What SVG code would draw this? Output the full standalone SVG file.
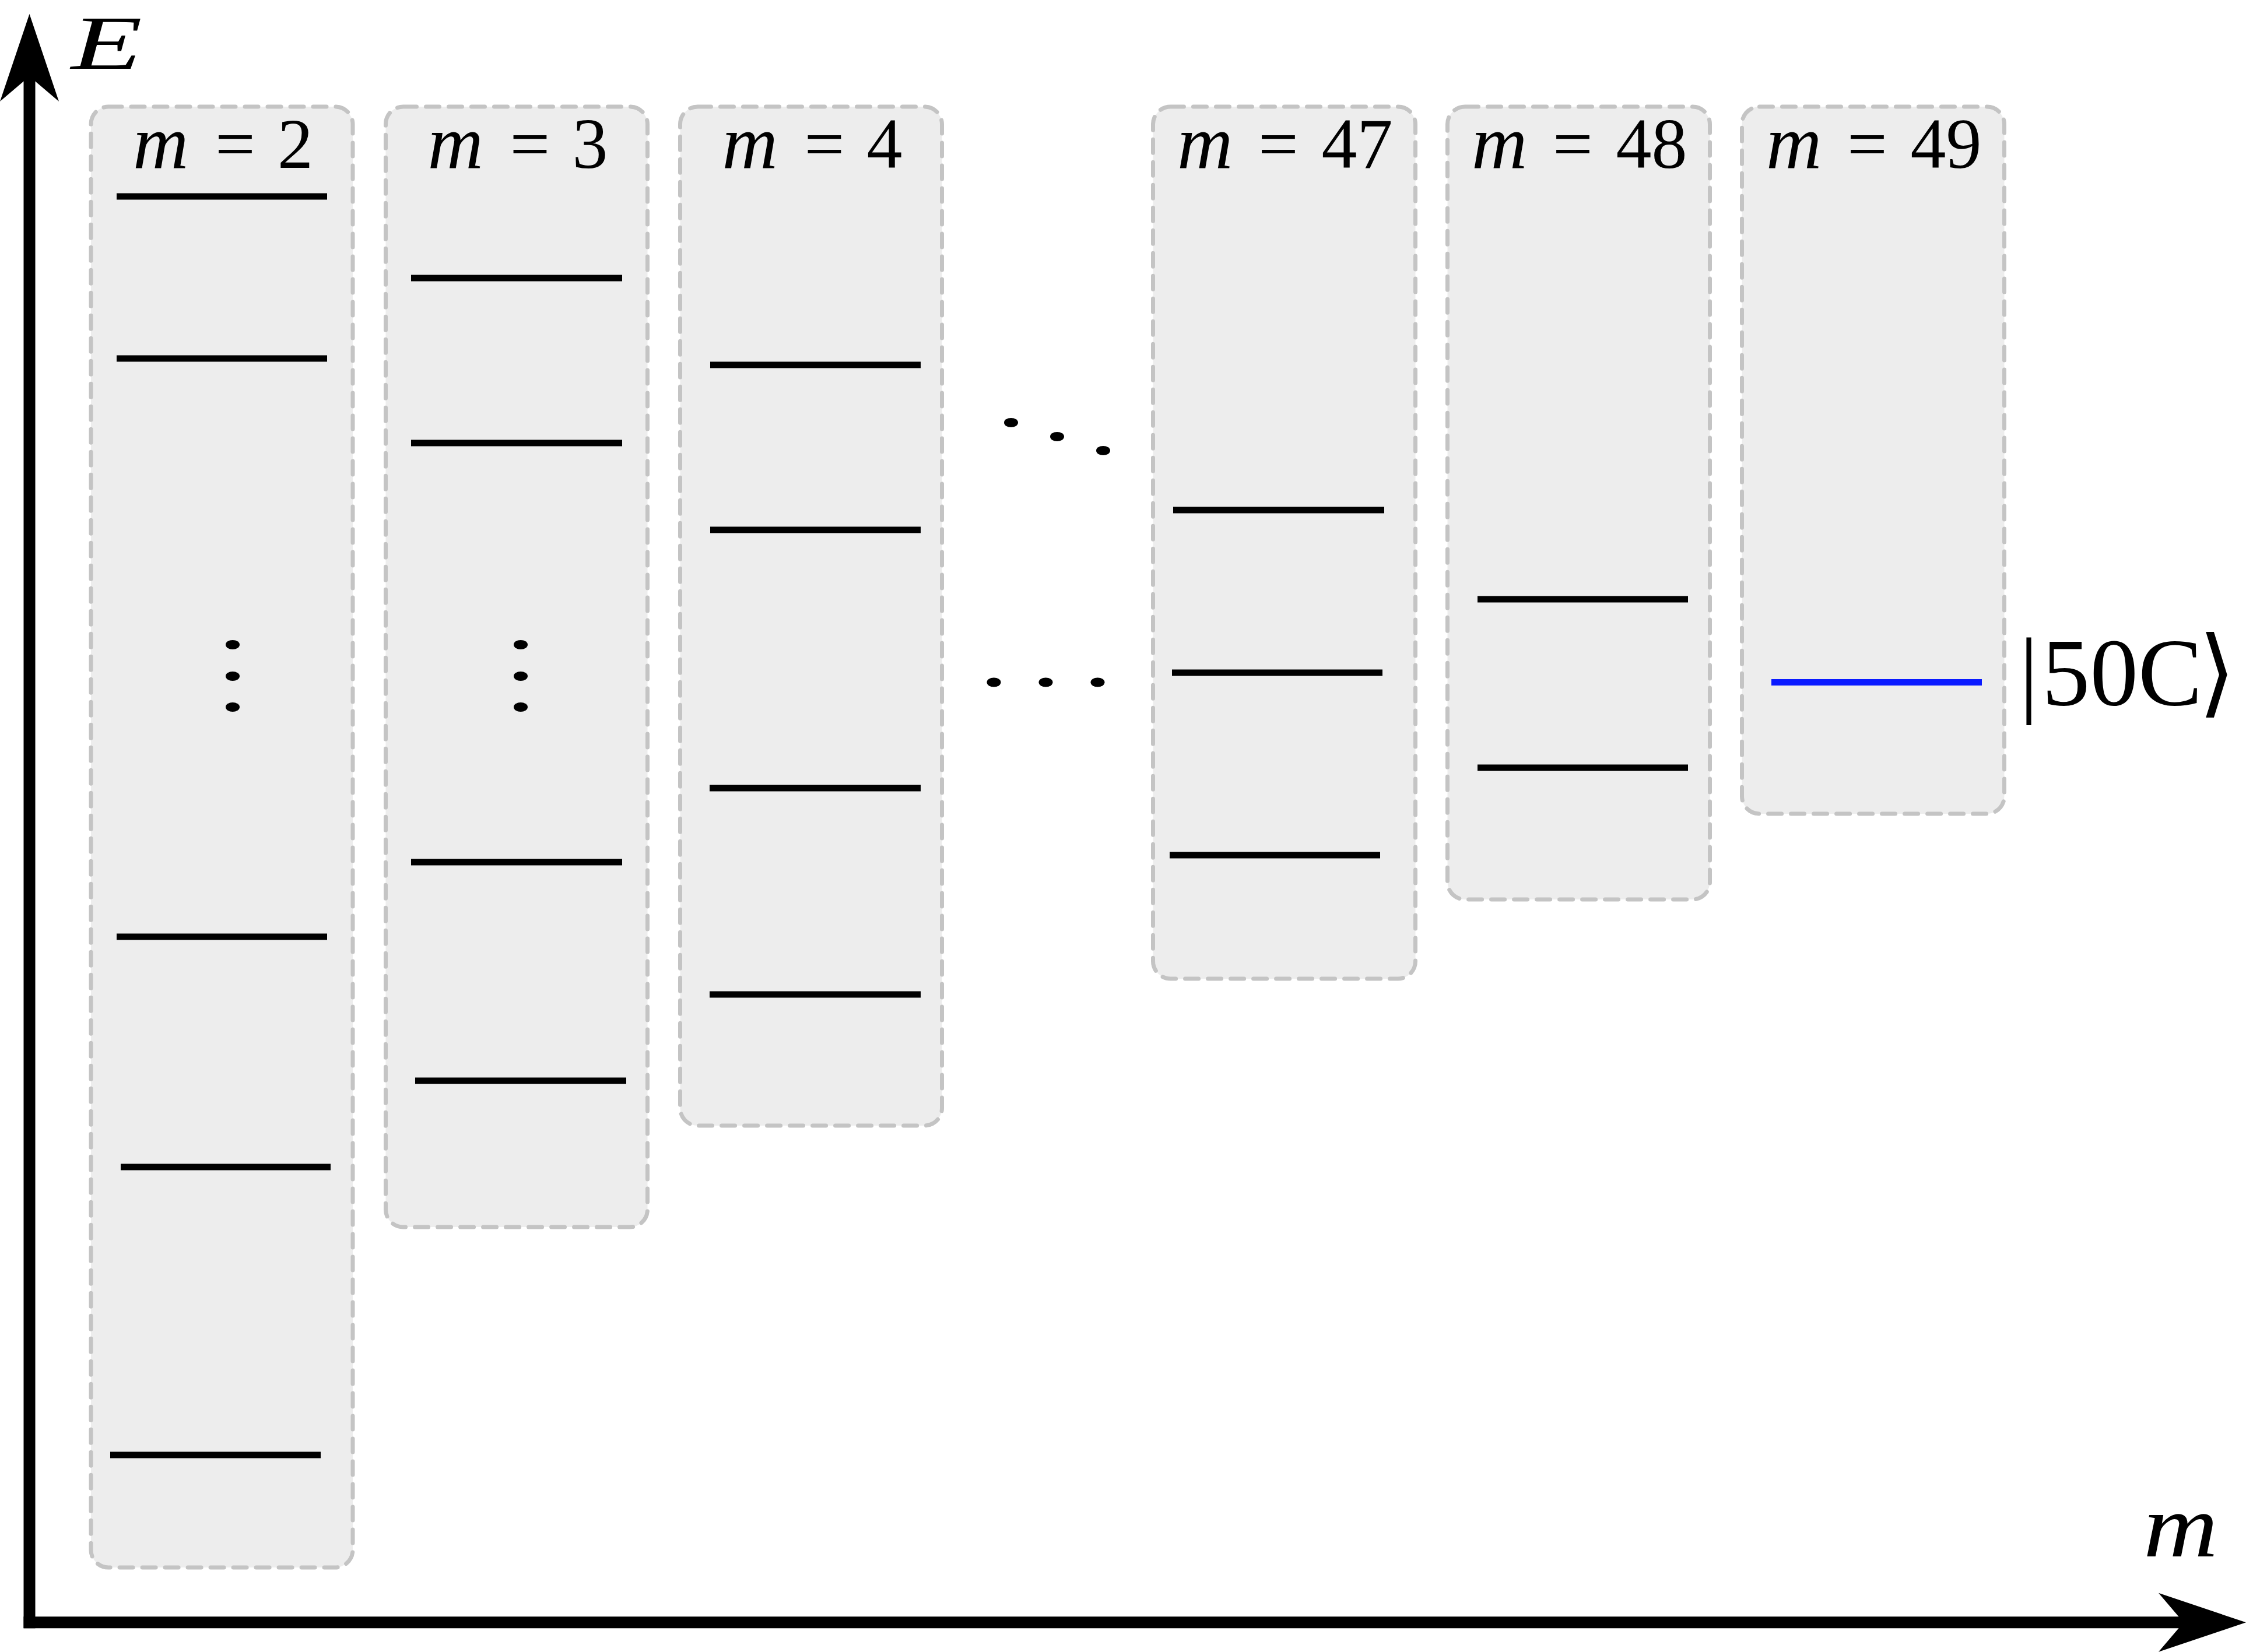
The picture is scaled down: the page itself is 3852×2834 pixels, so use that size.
<svg xmlns="http://www.w3.org/2000/svg" width="3852" height="2834" viewBox="0 0 3852 2834">
<style>
.box{fill:#ededed;stroke:#c4c4c4;stroke-width:7;stroke-dasharray:23 16;stroke-linecap:round}
.lvl{stroke:#000;stroke-width:11;fill:none}
.blue{stroke:#0a1aff;stroke-width:11;fill:none}
.lbl{font-family:"Liberation Serif","DejaVu Serif",serif;font-size:122px;fill:#000}
.it{font-style:italic;font-size:132px}
.dot{fill:#000}
.axis{stroke:#000;stroke-width:20;fill:none;stroke-linecap:butt}
.big{font-family:"Liberation Serif","DejaVu Serif","DejaVu Sans",serif;fill:#000}
</style>
<defs>
<marker id="stealth" markerUnits="userSpaceOnUse" markerWidth="160" markerHeight="110" refX="46" refY="50.5" orient="auto" overflow="visible">
<path d="M0,0 L150,50.5 L0,101 L43,50.5 Z" fill="#000"/>
</marker>
</defs>
<rect width="3852" height="2834" fill="#fff"/>

<g id="m2">
<rect class="box" x="156" y="183" width="449" height="2506" rx="30"/>
<text class="lbl" y="288"><tspan class="it" x="228">m</tspan> <tspan x="369">=</tspan> <tspan x="476">2</tspan></text>
<line class="lvl" x1="200" y1="337" x2="561" y2="337"/>
<line class="lvl" x1="200" y1="615" x2="561" y2="615"/>
<ellipse class="dot" cx="399" cy="1106" rx="12" ry="8"/>
<ellipse class="dot" cx="399" cy="1160" rx="12" ry="8"/>
<ellipse class="dot" cx="399" cy="1213" rx="12" ry="8"/>
<line class="lvl" x1="200" y1="1607" x2="561" y2="1607"/>
<line class="lvl" x1="207" y1="2002" x2="567" y2="2002"/>
<line class="lvl" x1="189" y1="2496" x2="550" y2="2496"/>
</g>

<g id="m3">
<rect class="box" x="661.5" y="183" width="449" height="1922" rx="30"/>
<text class="lbl" y="288"><tspan class="it" x="733.5">m</tspan> <tspan x="874.5">=</tspan> <tspan x="981.5">3</tspan></text>
<line class="lvl" x1="705" y1="477" x2="1067" y2="477"/>
<line class="lvl" x1="705" y1="760" x2="1067" y2="760"/>
<ellipse class="dot" cx="893" cy="1106" rx="12" ry="8"/>
<ellipse class="dot" cx="893" cy="1160" rx="12" ry="8"/>
<ellipse class="dot" cx="893" cy="1213" rx="12" ry="8"/>
<line class="lvl" x1="705" y1="1479" x2="1067" y2="1479"/>
<line class="lvl" x1="712" y1="1854" x2="1074" y2="1854"/>
</g>

<g id="m4">
<rect class="box" x="1166.5" y="183" width="449" height="1748" rx="30"/>
<text class="lbl" y="288"><tspan class="it" x="1238.5">m</tspan> <tspan x="1379.5">=</tspan> <tspan x="1486.5">4</tspan></text>
<line class="lvl" x1="1218" y1="626" x2="1579" y2="626"/>
<line class="lvl" x1="1218" y1="909" x2="1579" y2="909"/>
<line class="lvl" x1="1217" y1="1352" x2="1579" y2="1352"/>
<line class="lvl" x1="1217" y1="1706" x2="1579" y2="1706"/>
</g>

<g id="ellipsis">
<ellipse class="dot" cx="1734" cy="725" rx="12" ry="8"/>
<ellipse class="dot" cx="1813" cy="749" rx="12" ry="8"/>
<ellipse class="dot" cx="1892" cy="773" rx="12" ry="8"/>
<ellipse class="dot" cx="1704.5" cy="1170.5" rx="12" ry="8"/>
<ellipse class="dot" cx="1793.5" cy="1170.5" rx="12" ry="8"/>
<ellipse class="dot" cx="1882.5" cy="1170.5" rx="12" ry="8"/>
</g>

<g id="m47">
<rect class="box" x="1977.5" y="183" width="450" height="1496" rx="30"/>
<text class="lbl" y="288"><tspan class="it" x="2019">m</tspan> <tspan x="2158">=</tspan> <tspan x="2266.5">47</tspan></text>
<line class="lvl" x1="2012" y1="875" x2="2374" y2="875"/>
<line class="lvl" x1="2010" y1="1154" x2="2371" y2="1154"/>
<line class="lvl" x1="2006" y1="1467" x2="2367" y2="1467"/>
</g>

<g id="m48">
<rect class="box" x="2482.5" y="183" width="450" height="1360" rx="30"/>
<text class="lbl" y="288"><tspan class="it" x="2524">m</tspan> <tspan x="2663">=</tspan> <tspan x="2771.5">48</tspan></text>
<line class="lvl" x1="2534" y1="1028" x2="2895" y2="1028"/>
<line class="lvl" x1="2534" y1="1317" x2="2895" y2="1317"/>
</g>

<g id="m49">
<rect class="box" x="2987.5" y="183" width="450" height="1213" rx="30"/>
<text class="lbl" y="288"><tspan class="it" x="3029">m</tspan> <tspan x="3168">=</tspan> <tspan x="3276.5">49</tspan></text>
<line class="blue" x1="3038" y1="1170.5" x2="3399" y2="1170.5"/>
</g>

<g id="state-label">
<text class="big" y="1209" font-size="165"><tspan x="3463">|</tspan><tspan x="3502">50C</tspan><tspan x="3770">⟩</tspan></text>
</g>

<g id="axes">
<path class="axis" d="M50.5,2793.3 V128" marker-end="url(#stealth)"/>
<path class="axis" d="M40.5,2783.3 H3748" marker-end="url(#stealth)"/>
<text class="big" x="122" y="118" font-size="132" font-style="italic" textLength="122" lengthAdjust="spacingAndGlyphs">E</text>
<text class="big" x="3676" y="2670" font-size="155" font-style="italic" textLength="128" lengthAdjust="spacingAndGlyphs">m</text>
</g>
</svg>
